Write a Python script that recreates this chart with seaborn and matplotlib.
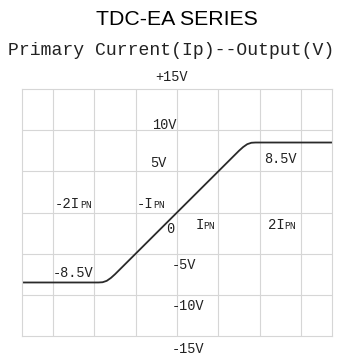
import matplotlib
matplotlib.use("Agg")
import matplotlib.pyplot as plt
import seaborn as sns

# primary current in units of IPN, output in volts
corrente = [-3.75, -1.9, -1.8, -1.7, -1.6, -1.5, 1.5, 1.6, 1.7, 1.8, 1.9, 3.75]
saida = [-8.5, -8.5, -8.47, -8.3, -7.95, -7.5, 7.5, 7.95, 8.3, 8.47, 8.5, 8.5]

rotulosV = ['+15V', '10V', '5V', '-5V', '-10V', '-15V']
posV = [(-0.53, 16.0), (-0.60, 10.2), (-0.65, 5.5), (-0.12, -6.9), (-0.12, -11.8), (-0.12, -17.1)]

rotulosI = ['-2I', '-I', 'I', '2I']
posI = [(-2.95, 0.5), (-0.97, 0.5), (0.44, -2.06), (2.2, -2.06)]

mono = 'Liberation Mono'

sns.set_style("white")
plt.rcParams['font.family'] = ['Liberation Sans', 'DejaVu Sans']

fig = plt.figure(figsize=(3.55, 3.55), dpi=100)
ax = fig.add_axes([22/355, 1 - 336/355, 310/355, 247/355])

sns.lineplot(x=corrente, y=saida, sort=False, color='#2a2a2a', linewidth=1.3, ax=ax)

ax.set_xlim(-3.75, 3.75)
ax.set_ylim(-15, 15)
ax.set_xticks(range(-3, 4))
ax.set_yticks([-10, -5, 0, 5, 10])
ax.tick_params(length=0, labelbottom=False, labelleft=False)
ax.grid(True, color='#d6d6d6', linewidth=0.8)
ax.set_axisbelow(True)
for s in ax.spines.values():
    s.set_color('#d6d6d6')
    s.set_linewidth(0.8)

for txt, (x, y) in zip(rotulosV, posV):
    ax.text(x, y, txt, family=mono, fontsize=9.8, color='#222', va='baseline', ha='left', clip_on=False)

ax.text(2.1, 6.07, '8.5V', family=mono, fontsize=9.8, color='#222', va='baseline')
ax.text(-3.0, -7.8, '-8.5V', family=mono, fontsize=9.8, color='#222', va='baseline')
ax.text(-0.27, -2.55, '0', family=mono, fontsize=9.8, color='#222', va='baseline')

for txt, (x, y) in zip(rotulosI, posI):
    t = ax.text(x, y, txt, family=mono, fontsize=10, color='#222', va='baseline')
    ax.annotate('PN', xy=(1, y), xycoords=(t, 'data'), family=mono, fontsize=7,
                color='#222', va='baseline', ha='left')

fig.text(176.5/355, 1 - 25/355, 'TDC-EA SERIES', fontsize=15.3, ha='center', va='baseline', color='black')
fig.text(171.5/355, 1 - 55/355, 'Primary Current(Ip)--Output(V)', family=mono, fontsize=13.1,
         ha='center', va='baseline', color='#222')

fig.savefig('out.png', dpi=100)
